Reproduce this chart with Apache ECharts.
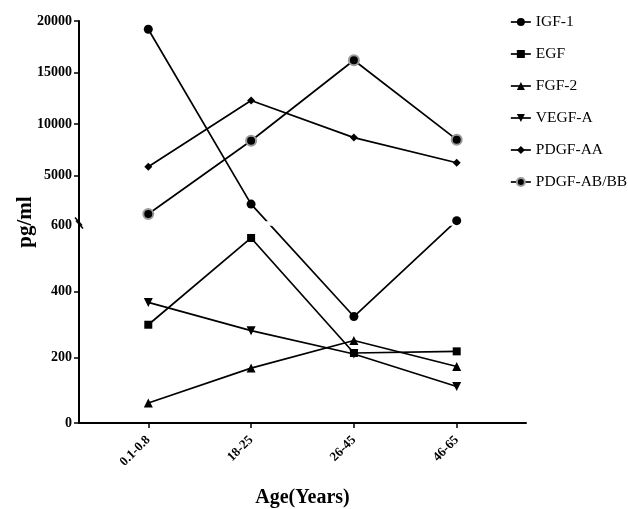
<!DOCTYPE html>
<html>
<head>
<meta charset="utf-8">
<script src="https://cdn.jsdelivr.net/npm/echarts@6/dist/echarts.min.js"></script>
<style>
  html, body { margin: 0; padding: 0; background: #fff; }
  #chart { width: 628px; height: 509px; }
</style>
</head>
<body>
<div id="chart"></div>
<script>
const ageGroups = ["0.1-0.8", "18-25", "26-45", "46-65"];
const igf1 = [19200, 2260, 324, 650];
const egf = [299, 563, 213, 218];
const fgf2 = [61, 167, 251, 172];
const vegfA = [367, 281, 210, 111];
const pdgfAA = [5870, 12300, 8700, 6260];
const pdgfABBB = [1300, 8400, 16200, 8500];
const yTicks = [0, 200, 400, 600, 5000, 10000, 15000, 20000];

// broken axis: 0-600 on the lower segment, 600-20000 squeezed above a small gap
const LOW_MAX = 600;
const GAP = 14;
const K = 0.0314;
function toAxis(v) {
  return v <= LOW_MAX ? v : LOW_MAX + GAP + (v - LOW_MAX) * K;
}
const tickPos = yTicks.map((v) => (v === LOW_MAX ? v : toAxis(v)));

const font = "Liberation Serif";
const seriesDefs = [
  { name: "IGF-1", data: igf1, symbol: "circle", size: 9 },
  { name: "EGF", data: egf, symbol: "rect", size: 8 },
  { name: "FGF-2", data: fgf2, symbol: "triangle", size: 9 },
  { name: "VEGF-A", data: vegfA, symbol: "triangle", size: 9, rotate: 180 },
  { name: "PDGF-AA", data: pdgfAA, symbol: "diamond", size: 8 },
  { name: "PDGF-AB/BB", data: pdgfABBB, symbol: "circle", size: 10, border: "#9a9a9a" },
];

const series = [];
seriesDefs.forEach((s) => {
  const pts = s.data.map((v, i) => [i, toAxis(v)]);
  // plain line under the break gap
  series.push({
    type: "line",
    name: s.name + "_line",
    data: pts,
    showSymbol: false,
    silent: true,
    z: 2,
    lineStyle: { color: "#000", width: 1.7 },
  });
  // markers on top
  series.push({
    type: "line",
    name: s.name,
    data: pts,
    symbol: s.symbol,
    symbolSize: s.size,
    symbolRotate: s.rotate || 0,
    z: 5,
    lineStyle: { color: "#000", width: 1.7, opacity: 0 },
    itemStyle: {
      color: "#000",
      borderColor: s.border || "#000",
      borderWidth: s.border ? 2 : 0,
    },
  });
});

const myChart = echarts.init(document.getElementById("chart"));
myChart.setOption({
  animation: false,
  grid: { left: 79, right: 102, top: 21, bottom: 86, outerBoundsMode: "none", containLabel: false },
  legend: {
    data: seriesDefs.map((s) => s.name),
    orient: "vertical",
    left: 505,
    top: 9,
    itemWidth: 20,
    itemHeight: 10,
    itemGap: 16,
    lineStyle: { color: "#000", width: 1.7, opacity: 1 },
    textStyle: { fontFamily: font, fontSize: 15.5, color: "#000", lineHeight: 16 },
  },
  xAxis: {
    type: "value",
    min: -0.674,
    max: 3.674,
    name: "Age(Years)",
    nameLocation: "middle",
    nameGap: 65,
    nameMoveOverlap: false,
    nameTextStyle: { fontFamily: font, fontSize: 20, fontWeight: "bold", color: "#000" },
    splitLine: { show: false },
    axisLine: { onZero: false, lineStyle: { color: "#000", width: 2 } },
    axisTick: { customValues: [0, 1, 2, 3], length: 5, lineStyle: { color: "#000", width: 1.5 } },
    axisLabel: {
      customValues: [0, 1, 2, 3],
      rotate: 45,
      margin: 15,
      formatter: (v) => ageGroups[Math.round(v)],
      fontFamily: font,
      fontSize: 13,
      fontWeight: "bold",
      color: "#000",
    },
  },
  yAxis: {
    type: "value",
    min: 0,
    max: toAxis(20000),
    name: "pg/ml",
    nameLocation: "middle",
    nameRotate: 90,
    nameGap: 43,
    nameMoveOverlap: false,
    nameTextStyle: { fontFamily: font, fontSize: 21, fontWeight: "bold", color: "#000" },
    splitLine: { show: false },
    axisLine: { show: true, onZero: false, lineStyle: { color: "#000", width: 2 } },
    axisTick: {
      show: true,
      customValues: tickPos.filter((p, i) => yTicks[i] !== LOW_MAX),
      length: 5,
      lineStyle: { color: "#000", width: 1.5 },
    },
    axisLabel: {
      customValues: tickPos,
      margin: 7,
      formatter: (v) => {
        const i = tickPos.findIndex((p) => Math.abs(p - v) < 0.01);
        return i >= 0 ? String(yTicks[i]) : "";
      },
      fontFamily: font,
      fontSize: 14,
      fontWeight: "bold",
      color: "#000",
    },
  },
  series: series,
});

// white gap across the plot for the axis break, plus the slash marks on the axis
const yLow = myChart.convertToPixel({ yAxisIndex: 0 }, LOW_MAX);
const yUp = myChart.convertToPixel({ yAxisIndex: 0 }, LOW_MAX + GAP);
const xLeft = myChart.convertToPixel({ xAxisIndex: 0 }, -0.674);
const xRight = myChart.convertToPixel({ xAxisIndex: 0 }, 3.674);
const yMid = (yLow + yUp) / 2;
myChart.setOption({
  graphic: [
    {
      type: "rect",
      z: 3,
      shape: { x: xLeft + 2, y: yUp, width: xRight - xLeft, height: yLow - yUp },
      style: { fill: "#fff" },
    },
    {
      type: "line",
      z: 6,
      shape: { x1: xLeft - 4, y1: yMid - 6, x2: xLeft + 3, y2: yMid + 2 },
      style: { stroke: "#000", lineWidth: 1.5 },
    },
    {
      type: "line",
      z: 6,
      shape: { x1: xLeft - 3, y1: yMid - 3, x2: xLeft + 4, y2: yMid + 5 },
      style: { stroke: "#000", lineWidth: 1.5 },
    },
  ],
});
</script>
</body>
</html>
